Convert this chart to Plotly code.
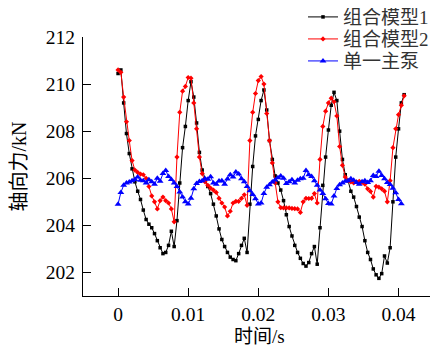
import plotly.graph_objects as go

# time axis (s)
step = 0.0004
n_pts = 103
time_s = [round(k * step, 6) for k in range(n_pts)]

# 组合模型1 (black)
model1 = [
    210.45, 210.6, 209.2, 207.9, 207.05, 206.4, 205.85, 205.45, 205.1, 204.65,
    204.25, 204.05, 203.9, 203.65, 203.35, 203.05, 202.8, 202.85, 203.15, 203.75,
    203.1, 204.2, 205.8, 207.3, 208.2, 209.3, 210.1, 209.45, 208.35, 207.1,
    206.35, 205.95, 205.65, 205.35, 204.9, 204.4, 203.85, 203.4, 203.1, 202.85,
    202.65, 202.55, 202.5, 202.8, 203.15, 203.45, 202.85, 204.9, 206.5, 207.8,
    208.5, 209.3, 209.75, 208.9, 207.6, 206.8, 206.1, 205.8, 205.5, 205.05,
    204.45, 203.95, 203.55, 203.15, 202.85, 202.6, 202.38, 202.27, 202.42, 202.8,
    203.1, 202.35, 203.9, 205.7, 206.9, 208.05, 209.1, 209.65, 209.3, 208.0,
    206.8, 206.15, 205.9, 205.45, 205.2, 204.8, 204.35, 203.95, 203.35, 202.85,
    202.55, 202.15, 201.9, 201.75, 201.95, 202.7, 202.4, 203.05, 205.0, 206.9,
    208.1, 209.2, 209.55,
]

# 组合模型2 (red)
model2 = [
    210.6, 210.5, 209.45, 208.4, 207.6, 206.75, 206.35, 206.25, 206.18, 206.15,
    206.0, 205.65, 205.25, 205.0, 204.7, 205.05, 205.2, 205.05, 204.95, 204.7,
    204.15, 206.9, 208.8, 209.7, 209.9, 210.28, 210.25, 209.2, 208.1, 206.9,
    206.2, 205.85, 205.7, 205.58, 205.5, 205.4, 205.15, 204.95, 204.78, 204.4,
    204.6, 204.95, 205.02, 205.02, 205.15, 205.3, 204.85, 207.6, 208.8, 209.6,
    210.15, 210.32, 210.0, 208.75, 207.6, 206.65, 205.8, 205.0, 204.75, 204.74,
    204.74, 204.74, 204.72, 204.71, 204.7, 204.55, 205.0, 205.15, 205.14, 205.15,
    205.35, 204.95, 206.8, 208.2, 208.85, 209.2, 209.4, 209.25, 208.65, 207.35,
    206.55, 206.05, 205.9, 205.85, 205.8, 205.85, 205.87, 205.83, 205.75, 205.55,
    205.44, 205.2, 205.66, 205.62, 205.55, 205.45, 205.0, 205.9, 207.3, 208.1,
    208.7, 209.1, 209.5,
]

# 单一主泵 (blue)
single = [
    204.9, 205.4, 205.7, 205.8, 205.84, 205.9, 205.95, 206.05, 205.92, 205.9,
    205.8, 205.94, 205.85, 205.75, 206.0, 205.87, 206.2, 206.33, 206.08, 205.95,
    205.8, 205.65, 205.42, 205.2, 205.0, 204.91, 205.15, 205.55, 205.78, 205.86,
    205.9, 205.98, 205.96, 206.06, 205.8, 205.75, 205.88, 205.9, 205.75, 205.97,
    206.15, 206.05, 206.27, 206.18, 205.98, 205.85, 205.65, 205.47, 205.31, 205.13,
    204.91, 204.95, 205.35, 205.62, 205.72, 205.84, 205.93, 206.02, 206.1, 206.0,
    205.78, 205.85, 205.94, 205.8, 205.92, 205.98, 206.0, 206.33, 206.15, 206.07,
    205.9, 205.7, 205.5, 205.35, 205.13, 204.93, 204.91, 205.25, 205.57, 205.73,
    205.8, 205.87, 205.9, 205.98, 205.92, 205.82, 205.75, 205.85, 205.9, 205.82,
    205.9, 206.12, 206.08, 206.3, 206.12, 205.98, 205.82, 205.74, 205.58, 205.38,
    205.1, 204.92,
]

x_ticks = [0, 0.01, 0.02, 0.03, 0.04]
x_tick_text = ["0", "0.01", "0.02", "0.03", "0.04"]
y_ticks = [202, 204, 206, 208, 210, 212]

series_names = ["组合模型1", "组合模型2", "单一主泵"]
x_title = "时间/s"
y_title = "轴向力/kN"

SERIF = "Liberation Serif, Noto Sans CJK SC, serif"

fig = go.Figure()
fig.add_trace(go.Scatter(
    x=time_s[:len(model1)], y=model1, name=series_names[0], mode="lines+markers",
    line=dict(color="black", width=1),
    marker=dict(symbol="square", size=3.5, color="black"),
    legend="legend",
))
fig.add_trace(go.Scatter(
    x=time_s[:len(model2)], y=model2, name=series_names[1], mode="lines+markers",
    line=dict(color="red", width=1),
    marker=dict(symbol="diamond", size=4, color="red"),
    legend="legend2",
))
fig.add_trace(go.Scatter(
    x=time_s[:len(single)], y=single, name=series_names[2], mode="lines+markers",
    line=dict(color="blue", width=1),
    marker=dict(symbol="triangle-up", size=6, color="blue"),
    legend="legend3",
))

def leg(ypos):
    return dict(
        x=0.625, y=ypos, xanchor="left", yanchor="middle",
        font=dict(family=SERIF, size=19, color="#333"),
        bgcolor="rgba(0,0,0,0)", borderwidth=0, itemwidth=30,
    )

fig.update_layout(
    width=430, height=341,
    margin=dict(l=75, r=3, t=29, b=53, autoexpand=False),
    paper_bgcolor="white", plot_bgcolor="white",
    showlegend=True,
    legend=leg(1.077),
    legend2=leg(0.992),
    legend3=leg(0.907),
    font=dict(family=SERIF, color="black"),
    annotations=[dict(
        text=x_title, xref="paper", yref="paper", x=0.5, y=-0.158,
        xanchor="center", yanchor="middle", showarrow=False,
        font=dict(family=SERIF, size=19, color="black"),
    )],
)

fig.update_xaxes(
    range=[-0.005, 0.0452],
    tickvals=x_ticks, ticktext=x_tick_text,
    ticks="inside", ticklen=8, tickwidth=1.3, tickcolor="black",
    showline=True, linecolor="black", linewidth=1.3,
    showgrid=False, zeroline=False,
    tickfont=dict(family=SERIF, size=19.5, color="black"),
)
fig.update_yaxes(
    range=[201, 212],
    tickvals=y_ticks,
    ticks="inside", ticklen=8, tickwidth=1.3, tickcolor="black",
    showline=True, linecolor="black", linewidth=1.3,
    showgrid=False, zeroline=False,
    ticklabelstandoff=3,
    tickfont=dict(family=SERIF, size=19.5, color="black"),
    title=dict(text=y_title, font=dict(family=SERIF, size=20, color="black"), standoff=19),
)

fig.write_html("out.html")
